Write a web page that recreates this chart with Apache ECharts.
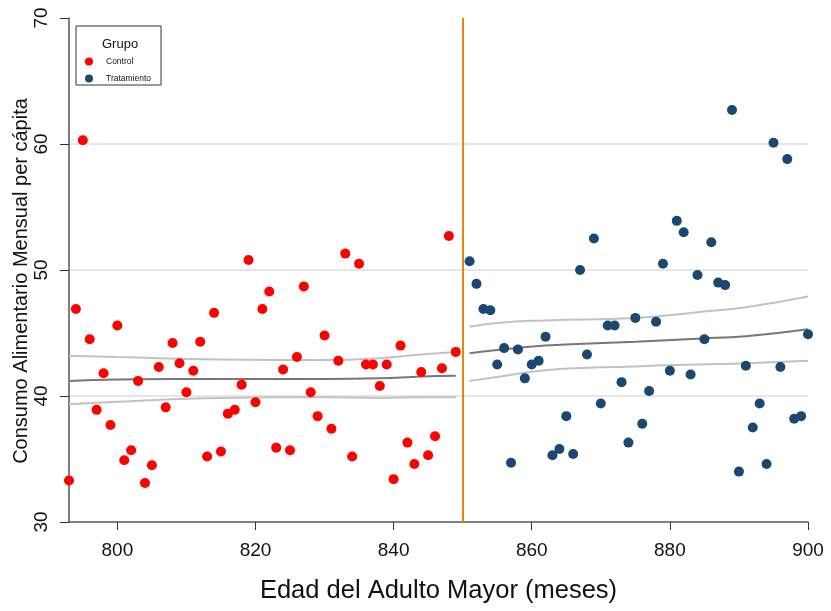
<!DOCTYPE html>
<html>
<head>
<meta charset="utf-8">
<script src="https://cdn.jsdelivr.net/npm/echarts@6/dist/echarts.min.js"></script>
<style>
  html, body { margin: 0; padding: 0; background: #fff; }
  #chart { width: 831px; height: 611px; }
</style>
</head>
<body>
<div id="chart"></div>
<script>
// Control group: age (months) and consumption
const controlX = [793, 794, 795, 796, 797, 798, 799, 800, 801, 802, 803, 804, 805, 806, 807, 808, 809, 810, 811, 812,
    813, 814, 815, 816, 817, 818, 819, 820, 821, 822, 823, 824, 825, 826, 827, 828, 829, 830, 831, 832,
    833, 834, 835, 836, 837, 838, 839, 840, 841, 842, 843, 844, 845, 846, 847, 848, 849];
const controlY = [33.3, 46.9, 60.3, 44.5, 38.9, 41.8, 37.7, 45.6, 34.9, 35.7, 41.2, 33.1, 34.5, 42.3, 39.1, 44.2, 42.6, 40.3, 42.0, 44.3,
    35.2, 46.6, 35.6, 38.6, 38.9, 40.9, 50.8, 39.5, 46.9, 48.3, 35.9, 42.1, 35.7, 43.1, 48.7, 40.3, 38.4, 44.8, 37.4, 42.8,
    51.3, 35.2, 50.5, 42.5, 42.5, 40.8, 42.5, 33.4, 44.0, 36.3, 34.6, 41.9, 35.3, 36.8, 42.2, 52.7, 43.5];

// Treatment group
const treatX = [851, 852, 853, 854, 855, 856, 857, 858, 859, 860, 861, 862, 863, 864, 865, 866, 867, 868, 869, 870,
    871, 872, 873, 874, 875, 876, 877, 878, 879, 880, 881, 882, 883, 884, 885, 886, 887, 888, 889, 890,
    891, 892, 893, 894, 895, 896, 897, 898, 899, 900];
const treatY = [50.7, 48.9, 46.9, 46.8, 42.5, 43.8, 34.7, 43.7, 41.4, 42.5, 42.8, 44.7, 35.3, 35.8, 38.4, 35.4, 50.0, 43.3, 52.5, 39.4,
    45.6, 45.6, 41.1, 36.3, 46.2, 37.8, 40.4, 45.9, 50.5, 42.0, 53.9, 53.0, 41.7, 49.6, 44.5, 52.2, 49.0, 48.8, 62.7, 34.0,
    42.4, 37.5, 39.4, 34.6, 60.1, 42.3, 58.8, 38.2, 38.4, 44.9];

// Fitted lines with confidence bands
const ctrlFitX = [793, 800, 815, 830, 838, 844, 849];
const ctrlFit = [41.2, 41.3, 41.35, 41.35, 41.4, 41.55, 41.6];
const ctrlUpper = [43.2, 43.1, 42.9, 42.85, 43.0, 43.3, 43.5];
const ctrlLower = [39.35, 39.55, 39.85, 39.9, 39.85, 39.9, 39.9];

const treatFitX = [851, 855, 862, 875, 884, 891, 900];
const treatFit = [43.4, 43.65, 44.0, 44.3, 44.55, 44.75, 45.3];
const treatUpper = [45.5, 45.8, 46.0, 46.2, 46.65, 47.05, 47.9];
const treatLower = [41.2, 41.5, 42.05, 42.35, 42.5, 42.6, 42.8];

const cutoff = 850;
const xTicks = [800, 820, 840, 860, 880, 900];

const zip = (xs, ys) => xs.map((x, i) => [x, ys[i]]);

const font = 'Liberation Sans, Arial, sans-serif';
const fitLine = (name, xs, ys, color) => ({
    name: name,
    type: 'line',
    data: zip(xs, ys),
    smooth: true,
    showSymbol: false,
    silent: true,
    lineStyle: { color: color, width: 2 },
    z: 2
});

const chart = echarts.init(document.getElementById('chart'));
chart.setOption({
    animation: false,
    backgroundColor: '#fff',
    title: {
        text: 'Grupo',
        left: 102,
        top: 38,
        padding: 0,
        textStyle: { fontFamily: font, fontSize: 13, fontWeight: 'normal', color: '#111' }
    },
    legend: {
        left: 76,
        top: 26,
        orient: 'vertical',
        data: ['Control', 'Tratamiento'],
        icon: 'circle',
        itemWidth: 8,
        itemHeight: 8,
        itemGap: 8,
        padding: [31, 10, 2, 9],
        borderColor: '#333',
        borderWidth: 1,
        textStyle: { fontFamily: font, fontSize: 8.5, color: '#111', padding: [0, 0, 0, 8] }
    },
    grid: { left: 69, right: 23, top: 18, bottom: 89, outerBoundsMode: 'none' },
    xAxis: {
        type: 'value',
        min: 793,
        max: 900,
        name: 'Edad del Adulto Mayor (meses)',
        nameLocation: 'middle',
        nameGap: 56,
        nameMoveOverlap: false,
        nameTextStyle: { fontFamily: font, fontSize: 25.5, color: '#111' },
        axisLine: { lineStyle: { color: '#555', width: 1.5 } },
        axisTick: { customValues: xTicks, length: 8, lineStyle: { color: '#333' } },
        axisLabel: { customValues: xTicks, fontFamily: font, fontSize: 19, color: '#111', margin: 19 },
        splitLine: { show: false }
    },
    yAxis: {
        type: 'value',
        min: 30,
        max: 70,
        interval: 10,
        name: 'Consumo Alimentario Mensual per cápita',
        nameLocation: 'middle',
        nameGap: 38,
        nameMoveOverlap: false,
        nameTextStyle: { fontFamily: font, fontSize: 20, color: '#111', padding: [0, 22, 0, 0] },
        axisLine: { show: true, lineStyle: { color: '#555', width: 1.5 } },
        axisTick: { show: true, length: 9, lineStyle: { color: '#333' } },
        axisLabel: { rotate: 90, fontFamily: font, fontSize: 19, color: '#111', margin: 18 },
        splitLine: {
            show: true,
            showMinLine: false,
            showMaxLine: false,
            lineStyle: { color: '#e6e6e6', width: 2 }
        }
    },
    series: [
        fitLine('ctrlUpper', ctrlFitX, ctrlUpper, '#c2c2c2'),
        fitLine('ctrlLower', ctrlFitX, ctrlLower, '#c2c2c2'),
        fitLine('ctrlFit', ctrlFitX, ctrlFit, '#777777'),
        fitLine('treatUpper', treatFitX, treatUpper, '#c2c2c2'),
        fitLine('treatLower', treatFitX, treatLower, '#c2c2c2'),
        fitLine('treatFit', treatFitX, treatFit, '#777777'),
        {
            name: 'Control',
            type: 'scatter',
            data: zip(controlX, controlY),
            symbolSize: 10,
            itemStyle: { color: '#ff0000', opacity: 1 },
            z: 3,
            markLine: {
                silent: true,
                symbol: 'none',
                label: { show: false },
                lineStyle: { color: '#e8870e', width: 2, type: 'solid' },
                data: [{ xAxis: cutoff }]
            }
        },
        {
            name: 'Tratamiento',
            type: 'scatter',
            data: zip(treatX, treatY),
            symbolSize: 10,
            itemStyle: { color: '#1b4872', opacity: 1 },
            z: 3
        }
    ]
});
</script>
</body>
</html>
